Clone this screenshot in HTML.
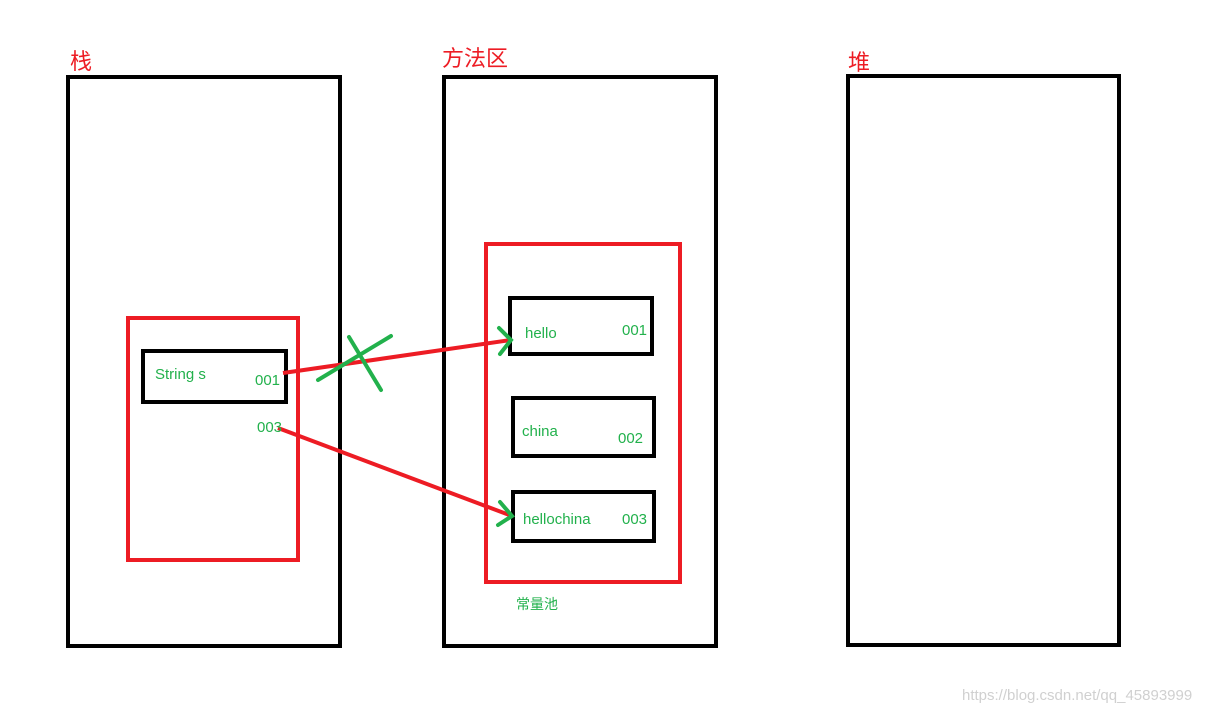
<!DOCTYPE html>
<html><head><meta charset="utf-8"><style>
html,body{margin:0;padding:0;background:#fff;width:1215px;height:713px;overflow:hidden}
svg text{font-family:"Liberation Sans","Noto Sans CJK SC",sans-serif}
</style></head><body>
<svg width="1215" height="713" xmlns="http://www.w3.org/2000/svg">
<g fill="none" stroke="#000" stroke-width="4">
<rect x="68" y="77" width="272" height="569"/>
<rect x="444" y="77" width="272" height="569"/>
<rect x="848" y="76" width="271" height="569"/>
<rect x="143" y="351" width="143" height="51"/>
<rect x="510" y="298" width="142" height="56"/>
<rect x="513" y="398" width="141" height="58"/>
<rect x="513" y="492" width="141" height="49"/>
</g>
<g fill="none" stroke="#ed1c24" stroke-width="4">
<rect x="128" y="318" width="170" height="242"/>
<rect x="486" y="244" width="194" height="338"/>
<line x1="283" y1="373" x2="511" y2="340"/>
<line x1="278" y1="428" x2="512" y2="516"/>
</g>
<g fill="none" stroke="#22b14c" stroke-width="4" stroke-linecap="round">
<polyline points="499,328 511,340 500,354"/>
<polyline points="500,502 512,516 498,525"/>
<line x1="318" y1="380" x2="391" y2="336"/>
<line x1="349" y1="337" x2="381" y2="390"/>
</g>
<g fill="#ed1c24" font-size="22">
<text x="70" y="69">栈</text>
<text x="442" y="66">方法区</text>
<text x="848" y="70">堆</text>
</g>
<g fill="#22b14c" font-size="15">
<text x="155" y="379">String s</text>
<text x="255" y="385">001</text>
<text x="257" y="432">003</text>
<text x="525" y="338">hello</text>
<text x="622" y="335">001</text>
<text x="522" y="436">china</text>
<text x="618" y="443">002</text>
<text x="523" y="524">hellochina</text>
<text x="622" y="524">003</text>
<text x="516" y="609" font-size="14">常量池</text>
</g>
<text x="962" y="700" fill="#d0d0d0" font-size="15">https://blog.csdn.net/qq_45893999</text>
</svg>
</body></html>
